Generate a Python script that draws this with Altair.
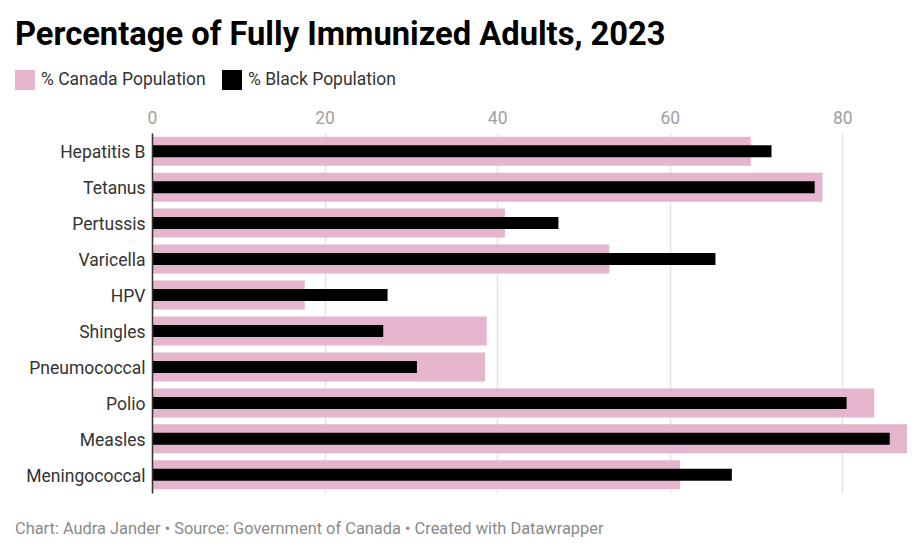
import altair as alt
import pandas as pd

vaccines = ["Hepatitis B", "Tetanus", "Pertussis", "Varicella", "HPV",
            "Shingles", "Pneumococcal", "Polio", "Measles", "Meningococcal"]
canada = [69.4, 77.7, 40.9, 53.0, 17.7, 38.8, 38.6, 83.7, 87.5, 61.2]
black = [71.8, 76.8, 47.1, 65.3, 27.3, 26.8, 30.7, 80.5, 85.5, 67.2]
series_names = ["% Canada Population", "% Black Population"]
series_colors = ["#e4b5cd", "#000000"]
x_ticks = [0, 20, 40, 60, 80]

rows = []
for v, c, b in zip(vaccines, canada, black):
    rows.append({"vaccine": v, "series": series_names[0], "value": c})
    rows.append({"vaccine": v, "series": series_names[1], "value": b})
df = pd.DataFrame(rows)

W, H = 755, 360
FS = 17.5

color = alt.Color(
    "series:N",
    scale=alt.Scale(domain=series_names, range=series_colors),
    legend=alt.Legend(
        title=None, orient="none", direction="horizontal",
        legendX=-137, legendY=-63,
        symbolType="square", symbolSize=400, symbolStrokeWidth=0,
        symbolOpacity=1, labelFontSize=FS, labelColor="#333333",
        labelFont="Roboto", labelOffset=6, columnPadding=16,
        labelLimit=300,
    ),
)

x = alt.X(
    "value:Q",
    scale=alt.Scale(domain=[0, 87.5], nice=False, zero=True),
    axis=alt.Axis(
        orient="top", values=x_ticks, title=None, domain=False, ticks=False,
        labelFontSize=FS, labelColor="#a0a0a0", labelFont="Roboto",
        labelPadding=6, labelFlush=False, gridColor="#e3e3e3", gridWidth=1.5,
    ),
)
y = alt.Y(
    "vaccine:N", sort=vaccines,
    scale=alt.Scale(paddingInner=0.19, paddingOuter=0.1),
    axis=alt.Axis(
        title=None, ticks=False, domain=True, domainColor="#333333",
        domainWidth=1.5, labelFontSize=FS, labelColor="#333333",
        labelFont="Roboto", labelPadding=7, labelOffset=2, grid=False, zindex=1,
    ),
)

base = alt.Chart(df)
pink = base.transform_filter(alt.datum.series == series_names[0]).mark_bar(size=29).encode(
    x=x, y=y, color=color)
dark = base.transform_filter(alt.datum.series == series_names[1]).mark_bar(size=12).encode(
    x=x, y=y, color=color)

footer = alt.Chart(pd.DataFrame({"t": ["Chart: Audra Jander • Source: Government of Canada • Created with Datawrapper"]})).mark_text(
    align="left", baseline="middle", fontSize=16.4, font="Roboto", color="#8a8a8a"
).encode(text="t:N", x=alt.value(-137), y=alt.value(H + 36))

chart = alt.layer(pink, dark, footer).properties(
    width=W, height=H,
    padding={"left": 144, "top": 125, "right": 9, "bottom": 50},
    autosize=alt.AutoSizeParams(type="none"),
    title=alt.Title(
        "Percentage of Fully Immunized Adults, 2023",
        anchor="start", frame="group", dx=-137, dy=-14,
        fontSize=32.7, font="Roboto", fontWeight="bold", color="#000000",
    ),
).configure_view(stroke=None)

chart.save("out.html", embed_options={"renderer": "svg", "actions": False})
